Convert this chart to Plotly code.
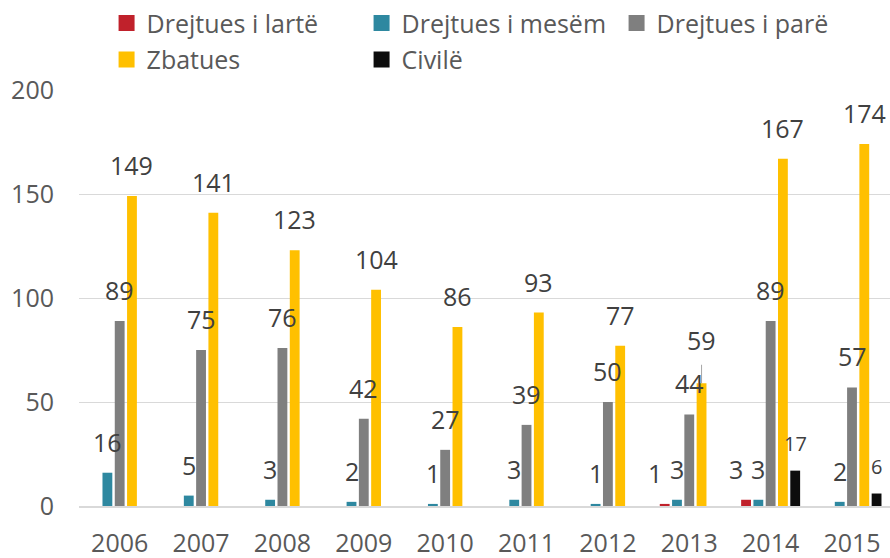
import plotly.graph_objects as go

years = ["2006", "2007", "2008", "2009", "2010", "2011", "2012", "2013", "2014", "2015"]
series_names = ["Drejtues i lartë", "Drejtues i mesëm", "Drejtues i parë", "Zbatues", "Civilë"]
drejtues_larte = [0, 0, 0, 0, 0, 0, 0, 1, 3, 0]
drejtues_mesem = [16, 5, 3, 2, 1, 3, 1, 3, 3, 2]
drejtues_pare = [89, 75, 76, 42, 27, 39, 50, 44, 89, 57]
zbatues = [149, 141, 123, 104, 86, 93, 77, 59, 167, 174]
civile = [0, 0, 0, 0, 0, 0, 0, 0, 17, 6]
y_ticks = [0, 50, 100, 150, 200]

series_values = [drejtues_larte, drejtues_mesem, drejtues_pare, zbatues, civile]
colors = ["#C0212B", "#2E88A0", "#7F7F7F", "#FFC000", "#0D0D0D"]
legend_of = ["legend", "legend", "legend", "legend2", "legend2"]

FONT = "Open Sans"
FS = 25
BARGAP = 0.245
GROUPGAP = 0.2
n = len(series_names)
slot = (1 - BARGAP) / n

fig = go.Figure()
for k, (name, vals) in enumerate(zip(series_names, series_values)):
    fig.add_trace(go.Bar(
        x=years, y=vals, name=name,
        marker=dict(color=colors[k], line=dict(width=0)),
        showlegend=False,
    ))
# legend entries (square keys like the reference)
for k, name in enumerate(series_names):
    fig.add_trace(go.Scatter(
        x=[None], y=[None], mode="markers", name=name,
        marker=dict(symbol="square", size=16, color=colors[k]),
        legend=legend_of[k], hoverinfo="skip",
    ))

annotations = []
for k, vals in enumerate(series_values):
    for i, v in enumerate(vals):
        if v <= 0:
            continue
        xpos = i + (k - (n - 1) / 2) * slot
        size = 20 if k == 4 else FS
        ann = dict(
            x=xpos, y=v, xref="x", yref="y", text=str(v),
            font=dict(family=FONT, size=size, color="#404040"),
            yanchor="bottom", xanchor="center",
            showarrow=False, yshift=12,
            xshift=-10 if k == 0 else 0,
        )
        if k == 3 and years[i] == "2013":
            ann.update(showarrow=True, ax=0, ay=-43, yshift=0,
                       arrowhead=0, arrowwidth=1, arrowcolor="#A6A6A6",
                       standoff=0, startstandoff=6, yanchor="middle")
        annotations.append(ann)

fig.update_layout(
    width=890, height=558,
    margin=dict(l=79, r=0, t=85, b=52),
    paper_bgcolor="white", plot_bgcolor="white",
    barmode="group", bargap=BARGAP, bargroupgap=GROUPGAP,
    font=dict(family=FONT, size=FS, color="#595959"),
    annotations=annotations,
    legend=dict(orientation="h", x=0.034, xanchor="left", y=1.216, yanchor="top",
                font=dict(family=FONT, size=FS, color="#595959"),
                entrywidth=210, bgcolor="rgba(0,0,0,0)", traceorder="normal"),
    legend2=dict(orientation="h", x=0.034, xanchor="left", y=1.128, yanchor="top",
                 font=dict(family=FONT, size=FS, color="#595959"),
                 entrywidth=210, bgcolor="rgba(0,0,0,0)", traceorder="normal"),
    xaxis=dict(type="category", range=[-0.5, 9.467], showgrid=False,
               showline=True, linecolor="#D9D9D9", linewidth=2,
               ticks="", ticklabelstandoff=14,
               tickfont=dict(family=FONT, size=FS, color="#595959")),
    yaxis=dict(range=[0, 200], tickvals=y_ticks, showgrid=True,
               gridcolor="#D9D9D9", gridwidth=1, zeroline=False,
               showline=False, ticks="", ticklabelstandoff=24,
               tickfont=dict(family=FONT, size=FS, color="#595959")),
)

fig.write_html("out.html", config={"displayModeBar": False},
               post_script="document.body.style.margin='0px';")
